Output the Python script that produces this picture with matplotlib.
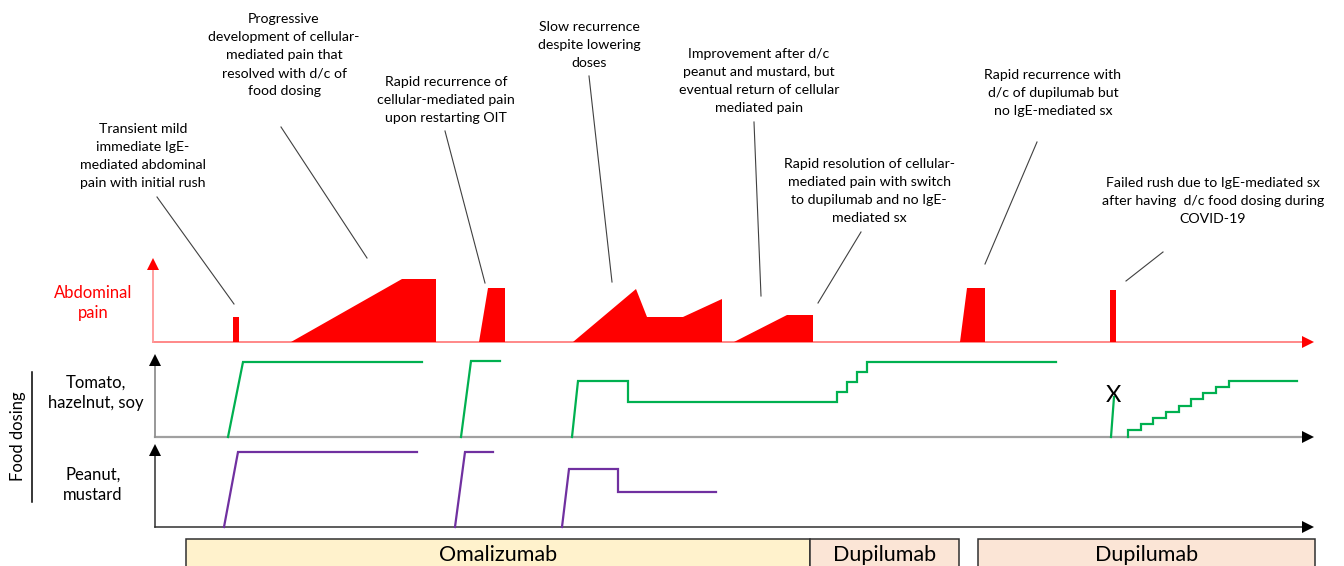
import matplotlib
matplotlib.use("Agg")
import matplotlib.pyplot as plt
from matplotlib.patches import Polygon, Rectangle

plt.rcParams['font.family'] = ['Lato', 'DejaVu Sans']

# ---------------- data (time axis in schematic units, levels above baseline) -------------
# Abdominal pain episodes: (x points, level points)
pain_x = [
    [233, 233, 239, 239],
    [291, 402, 436, 436],
    [479, 488, 505, 505],
    [573, 636, 647, 683, 722, 722],
    [734, 787, 813, 813],
    [960, 967, 985, 985],
    [1110, 1110, 1116, 1116],
]
pain_level = [
    [0, 25, 25, 0],
    [0, 63, 63, 0],
    [0, 54, 54, 0],
    [0, 53, 25, 25, 43, 0],
    [0, 27, 27, 0],
    [0, 54, 54, 0],
    [0, 52, 52, 0],
]

# Tomato, hazelnut, soy dosing
tomato_x = [
    [228, 243, 422],
    [461, 471, 500],
    [572, 578, 628, 628, 837, 837, 847, 847, 857, 857, 867, 867, 1056],
    [1111, 1114],
    [1128, 1128, 1141, 1141, 1153, 1153, 1166, 1166, 1179, 1179, 1191, 1191,
     1203, 1203, 1216, 1216, 1229, 1229, 1297],
]
tomato_level = [
    [0, 75, 75],
    [0, 76, 76],
    [0, 56, 56, 35, 35, 45, 45, 55, 55, 65, 65, 75, 75],
    [0, 40],
    [0, 7, 7, 13, 13, 19, 19, 25, 25, 31, 31, 38, 38, 44, 44, 50, 50, 56, 56],
]

# Peanut, mustard dosing
peanut_x = [
    [224, 238, 417],
    [455, 465, 493],
    [562, 569, 618, 618, 716],
]
peanut_level = [
    [0, 75, 75],
    [0, 75, 75],
    [0, 58, 58, 35, 35],
]

# Treatment periods
treat_names = ["Omalizumab", "Dupilumab", "Dupilumab"]
treat_start = [186, 810, 978]
treat_end = [810, 959, 1315]
treat_colors = ["#fff2cc", "#fbe5d6", "#fbe5d6"]

# Annotations
notes = [
    "Transient mild\nimmediate IgE-\nmediated abdominal\npain with initial rush",
    "Progressive\ndevelopment of cellular-\nmediated pain that\nresolved with d/c of\nfood dosing",
    "Rapid recurrence of\ncellular-mediated pain\nupon restarting OIT",
    "Slow recurrence\ndespite lowering\ndoses",
    "Improvement after d/c\npeanut and mustard, but\neventual return of cellular\nmediated pain",
    "Rapid resolution of cellular-\nmediated pain with switch\nto dupilumab and no IgE-\nmediated sx",
    "Rapid recurrence with\nd/c of dupilumab but\nno IgE-mediated sx",
    "Failed rush due to IgE-mediated sx\nafter having  d/c food dosing during\nCOVID-19",
]
note_x = [143, 284, 446, 589, 759, 869, 1053, 1213]
note_y = [156, 55, 100, 45, 81.5, 191, 93, 201]
leader_from = [(157, 197), (281, 127), (445, 131), (589, 76), (754, 122), (861, 232), (1037, 142), (1163, 252)]
leader_to = [(234, 304), (367, 258), (485, 283), (612, 282), (761, 296), (818, 303), (985, 264), (1126, 281)]

# ---------------- layout ----------------
W, H = 1344, 566
fig = plt.figure(figsize=(W / 100, H / 100), dpi=100)
ax = fig.add_axes([0, 0, 1, 1])
ax.set_xlim(0, W)
ax.set_ylim(H, 0)
ax.axis('off')

pain_base, tom_base, pea_base = 342, 437, 527
x_axis0, x_axis_end = 153, 1313

# Pain axes
ax.plot([x_axis0, x_axis_end - 8], [pain_base, pain_base], color='#ff7f7f', lw=1.3, zorder=2)
ax.plot([x_axis0, x_axis0], [pain_base, 266], color='#ff9999', lw=1.3, zorder=2)
ax.plot(x_axis_end - 5, pain_base, marker='>', ms=8, color='red', mew=0, zorder=3)
ax.plot(x_axis0, 264, marker='^', ms=8, color='red', mew=0, zorder=3)

for xs, ls in zip(pain_x, pain_level):
    pts = [(x, pain_base - l) for x, l in zip(xs, ls)]
    ax.add_patch(Polygon(pts, closed=True, facecolor='red', edgecolor='none', zorder=4))

# Tomato axes
ax.plot([155, x_axis_end - 8], [tom_base, tom_base], color='#a0a0a0', lw=1.6, zorder=2)
ax.plot([155, 155], [tom_base, 362], color='#909090', lw=1.3, zorder=2)
ax.plot(x_axis_end - 5, tom_base, marker='>', ms=8, color='black', mew=0, zorder=3)
ax.plot(155, 360, marker='^', ms=8, color='black', mew=0, zorder=3)
for xs, ls in zip(tomato_x, tomato_level):
    ax.plot(xs, [tom_base - l for l in ls], color='#00b050', lw=1.6, zorder=4, solid_joinstyle='miter')
ax.text(1113, 395, "X", ha='center', va='center', fontsize=17, color='black', zorder=5)

# Peanut axes
ax.plot([155, x_axis_end - 8], [pea_base, pea_base], color='#303030', lw=1.1, zorder=2)
ax.plot([155, 155], [pea_base, 452], color='#303030', lw=1.1, zorder=2)
ax.plot(x_axis_end - 5, pea_base, marker='>', ms=8, color='black', mew=0, zorder=3)
ax.plot(155, 450, marker='^', ms=8, color='black', mew=0, zorder=3)
for xs, ls in zip(peanut_x, peanut_level):
    ax.plot(xs, [pea_base - l for l in ls], color='#7030a0', lw=1.6, zorder=4, solid_joinstyle='miter')

# Side labels
ax.text(93, 303, "Abdominal\npain", ha='center', va='center', fontsize=12, color='red', linespacing=1.35)
ax.text(96, 393, "Tomato,\nhazelnut, soy", ha='center', va='center', fontsize=12, color='black', linespacing=1.35)
ax.text(93, 485, "Peanut,\nmustard", ha='center', va='center', fontsize=12, color='black', linespacing=1.35)
ax.text(18, 436, "Food dosing", ha='center', va='center', rotation=90, fontsize=12, color='black')
ax.plot([32, 32], [372, 502], color='black', lw=1.1)

# Treatment boxes
for name, s, e, c in zip(treat_names, treat_start, treat_end, treat_colors):
    ax.add_patch(Rectangle((s, 539), e - s, 40, facecolor=c, edgecolor='#303030', lw=1.1, zorder=2))
    ax.text((s + e) / 2, 555, name, ha='center', va='center', fontsize=15.5, color='black', zorder=3)

# Annotations and leader lines
for t, x, y in zip(notes, note_x, note_y):
    ax.text(x, y, t, ha='center', va='center', fontsize=10.2, color='black', linespacing=1.6)
for (x0, y0), (x1, y1) in zip(leader_from, leader_to):
    ax.plot([x0, x1], [y0, y1], color='#404040', lw=0.8, zorder=3)

fig.savefig("out.png", dpi=100)
